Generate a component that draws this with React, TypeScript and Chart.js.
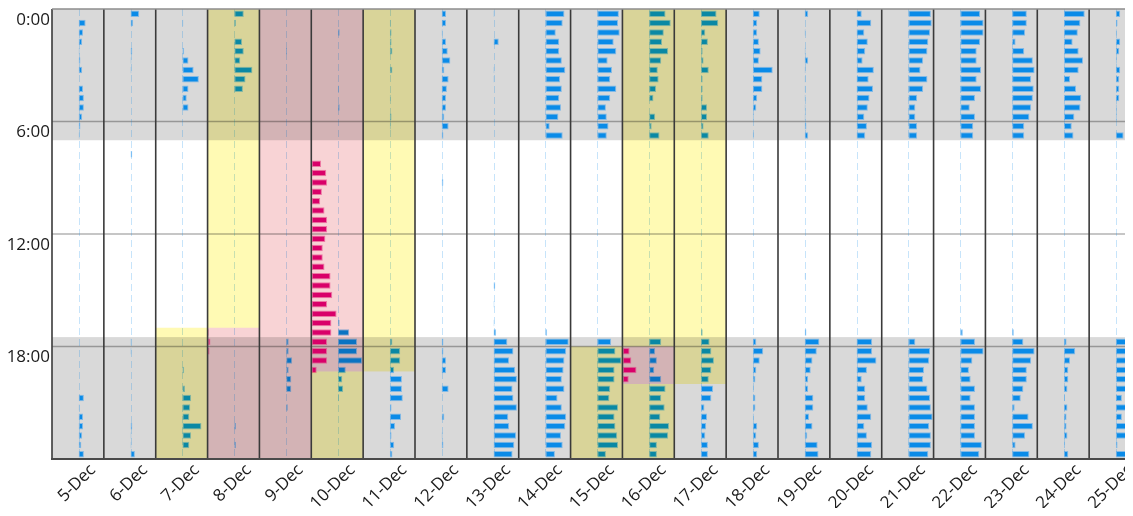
import { useEffect, useRef } from 'react';
import { Chart, registerables } from 'chart.js';

Chart.register(...registerables);

// ---------- categories / ticks ----------
const dayLabels = [
  '5-Dec', '6-Dec', '7-Dec', '8-Dec', '9-Dec', '10-Dec', '11-Dec', '12-Dec', '13-Dec', '14-Dec',
  '15-Dec', '16-Dec', '17-Dec', '18-Dec', '19-Dec', '20-Dec', '21-Dec', '22-Dec', '23-Dec', '24-Dec', '25-Dec',
];
const hourTicks = [0, 6, 12, 18];
const slotHours = 0.5; // 48 half-hour slots per day

// ---------- blue series: minutes per half-hour slot (rows 0:00 .. 23:30) ----------
const dec05 = [0,8,5,4,1,2,4,0,5,6,6,4,2,1, 0,0,0,0,0,0,0,0,0,0, 0,0,0,0,0,0,0,0,0,0, 0,0,0,0,0,0,0,6,1,5,5,4,3,6];
const dec06 = [10,3,0,0,2,1,1,0,0,0,0,0,0,0, 0,2,0,0,0,0,0,0,0,0, 0,0,0,0,0,0,0,0,0,0, 0,1,1,0,0,0,0,0,0,0,2,1,1,5];
const dec07 = [0,1,0,0,2,7,13,19,7,5,7,0,0,0, 0,0,0,0,0,0,0,0,0,0, 0,0,0,0,0,0,0,0,0,0, 0,0,0,0,2,0,3,10,9,8,22,10,8,0];
const dec08 = [11,2,0,9,11,7,21,13,10,0,0,0,0,0, 0,0,0,0,0,0,0,0,0,0, 0,0,0,0,0,0,0,0,0,0, 0,0,0,0,0,0,0,0,0,0,2,0,2,0];
const dec09 = [0,0,0,0,1,0,0,0,0,0,0,0,0,0, 0,0,0,0,0,0,0,0,0,0, 0,0,0,0,0,0,0,0,0,0, 0,3,3,7,3,6,6,0,2,0,0,0,0,0];
const dec10 = [0,0,2,0,0,0,0,0,1,0,2,0,0,0, 0,0,0,0,0,0,0,0,0,0, 0,0,0,0,0,0,0,0,0,2, 13,22,22,28,9,5,6,1,0,0,0,0,0,0];
const dec11 = [0,1,2,2,3,0,3,0,0,1,0,2,1,0, 0,0,0,0,0,0,0,0,0,0, 0,0,0,0,0,0,0,0,0,0, 0,3,12,12,5,14,14,15,2,13,6,2,5,3];
const dec12 = [5,5,1,5,7,10,3,8,6,5,5,3,8,2, 0,0,0,0,2,0,0,0,0,0, 0,0,0,0,0,0,0,0,0,0, 0,2,2,5,5,0,8,0,0,3,0,1,2,0];
const dec13 = [1,0,0,6,0,0,1,1,0,0,0,0,0,0, 0,0,0,0,0,0,0,0,0,0, 0,0,0,0,0,2,0,1,0,1, 3,16,23,18,25,27,22,23,27,17,18,26,24,22];
const dec14 = [22,20,12,16,16,19,23,17,19,16,18,15,5,20, 0,0,0,0,0,0,0,0,0,0, 0,0,0,0,0,0,0,0,0,0, 2,27,24,22,21,19,22,14,19,24,23,18,20,11];
const dec15 = [25,24,26,19,22,12,17,15,22,15,10,11,13,11, 0,0,0,0,0,0,0,0,0,0, 0,0,0,0,0,0,0,0,0,0, 0,16,21,28,20,20,15,14,24,20,21,23,24,10];
const dec16 = [19,25,17,15,22,14,10,11,8,5,0,7,3,12, 0,0,0,0,0,0,0,0,0,0, 0,0,0,0,0,0,0,0,0,0, 0,14,7,9,6,14,19,14,18,13,23,22,9,9];
const dec17 = [18,20,5,8,2,3,9,2,2,2,7,7,3,9, 0,0,0,0,0,0,0,0,0,0, 0,0,0,0,0,0,0,0,0,0, 2,10,12,15,12,9,14,12,4,7,6,5,8,8];
const dec18 = [8,5,5,7,9,7,23,11,11,5,4,1,0,1, 0,0,0,0,0,0,0,0,0,0, 0,0,0,0,0,0,0,0,0,0, 0,4,12,8,4,3,1,3,3,1,5,4,7,5];
const dec19 = [4,0,1,0,1,4,1,1,1,1,1,1,2,4, 0,0,0,0,0,0,0,0,0,0, 0,0,0,0,1,0,0,0,0,0, 2,17,14,9,7,4,4,10,10,5,9,3,15,16];
const dec20 = [6,17,9,13,10,7,20,14,19,15,13,9,12,10, 0,0,0,0,0,0,0,0,0,0, 0,0,0,0,0,0,0,0,0,0, 0,18,18,23,12,6,10,10,13,17,9,12,18,17];
const dec21 = [26,27,25,23,22,17,14,22,17,10,8,8,10,10, 0,0,0,0,0,0,0,0,0,0, 0,0,0,0,0,0,0,0,0,0, 0,8,25,24,18,17,22,25,26,28,24,26,26,23];
const dec22 = [23,27,27,23,19,19,24,19,24,17,11,17,15,15, 0,0,0,0,0,0,0,0,0,0, 0,0,0,0,0,0,0,0,0,0, 3,17,27,14,10,12,17,12,17,17,17,17,25,22];
const dec23 = [17,17,15,4,14,24,26,22,25,24,22,20,14,14, 0,0,0,0,0,0,0,0,0,0, 0,0,0,0,0,0,0,0,0,0, 2,13,26,22,17,17,13,10,3,19,24,15,4,20];
const dec24 = [24,19,16,10,17,22,17,7,14,20,19,12,9,11, 0,0,0,0,0,0,0,0,0,0, 0,0,0,0,0,0,0,0,0,0, 0,3,13,7,5,5,4,1,4,3,3,4,1,5];
const dec25 = [5,2,1,5,4,1,5,4,4,4,1,1,0,9, 0,0,0,0,0,0,0,0,0,0, 0,0,0,0,0,0,0,0,0,0, 0,12,22,21,15,15,17,7,12,7,15,13,2,13];

const blueSeries = [
  dec05, dec06, dec07, dec08, dec09, dec10, dec11, dec12, dec13, dec14, dec15,
  dec16, dec17, dec18, dec19, dec20, dec21, dec22, dec23, dec24, dec25,
];

// ---------- magenta series (only on some days) ----------
const pink08 = [0,0,0,0,0,0,0,0,0,0,0,0,0,0, 0,0,0,0,0,0,0,0,0,0, 0,0,0,0,0,0,0,0,0,0, 1,3,2,0,0,0,0,0,0,0,0,0,0,0];
const pink10 = [0,0,0,0,0,0,0,0,0,0,0,0,0,0, 0,0,11,17,18,12,10,15,18,18, 16,13,13,15,22,22,24,18,29,23, 23,18,18,18,6,0,0,0,0,0,0,0,0,0];
const pink16 = [0,0,0,0,0,0,0,0,0,0,0,0,0,0, 0,0,0,0,0,0,0,0,0,0, 0,0,0,0,0,0,0,0,0,0, 0,0,8,10,16,7,0,0,0,0,0,0,0,0];
const pinkDays = [3, 5, 11];
const pinkSeries = [pink08, pink10, pink16];

// ---------- night shading (hours) ----------
const nightStart = [0, 17.5];
const nightEnd = [7, 24];

// ---------- highlighted periods ----------
const periodKind = ['yellow', 'pink', 'yellow', 'yellow', 'pink', 'yellow'];
const periodStartDay = [2, 3, 5, 10, 11, 11];
const periodStartHour = [17, 17, 19.33, 18, 18, 20];
const periodEndDay = [3, 5, 6, 11, 11, 12];
const periodEndHour = [17, 19.33, 19.33, 18, 20, 20];

const BASE = 0.515; // blue bars start near the middle of each day column
const MIN_PER_DAY_UNIT = 60;

function buildBlue() {
  const out: { x: [number, number]; y: number }[] = [];
  blueSeries.forEach((day, d) => {
    day.forEach((v, r) => {
      if (v > 0) out.push({ x: [d + BASE, d + BASE + v / MIN_PER_DAY_UNIT], y: r * slotHours + slotHours / 2 });
    });
  });
  return out;
}

function buildPink() {
  const out: { x: [number, number]; y: number }[] = [];
  pinkSeries.forEach((day, k) => {
    const d = pinkDays[k];
    day.forEach((v, r) => {
      if (v > 0) out.push({ x: [d + 0.005, d + 0.005 + v / MIN_PER_DAY_UNIT], y: r * slotHours + slotHours / 2 });
    });
  });
  return out;
}

const overlayColor: Record<string, string> = { yellow: '#fffab4', pink: '#f8d3d5' };

const backdrop = {
  id: 'backdrop',
  beforeDraw(chart: any) {
    const { ctx, chartArea: a, scales } = chart;
    const y = scales.y;
    ctx.save();
    ctx.fillStyle = '#ffffff';
    ctx.fillRect(0, 0, chart.width, chart.height);
    ctx.fillStyle = '#d9d9d9';
    nightStart.forEach((s, i) => {
      const y0 = y.getPixelForValue(s);
      const y1 = y.getPixelForValue(nightEnd[i]);
      ctx.fillRect(a.left, y0, a.right - a.left, y1 - y0);
    });
    ctx.restore();
  },
  beforeDatasetsDraw(chart: any) {
    const { ctx, chartArea: a, scales } = chart;
    const { x, y } = scales;
    ctx.save();
    ctx.lineWidth = 1.3;
    ctx.strokeStyle = 'rgba(0,0,0,0.3)';
    [6, 12, 18].forEach((h) => {
      const py = y.getPixelForValue(h);
      ctx.beginPath();
      ctx.moveTo(a.left, py);
      ctx.lineTo(a.right, py);
      ctx.stroke();
    });
    ctx.setLineDash([7, 4]);
    ctx.lineWidth = 1;
    ctx.strokeStyle = 'rgba(0,130,230,0.22)';
    dayLabels.forEach((_, d) => {
      const px = Math.round(x.getPixelForValue(d + BASE)) + 0.5;
      ctx.beginPath();
      ctx.moveTo(px, a.top);
      ctx.lineTo(px, a.bottom);
      ctx.stroke();
    });
    ctx.restore();
  },
  afterDatasetsDraw(chart: any) {
    const { ctx, chartArea: a, scales } = chart;
    const { x, y } = scales;
    ctx.save();
    ctx.globalCompositeOperation = 'multiply';
    periodKind.forEach((kind, i) => {
      ctx.fillStyle = overlayColor[kind];
      for (let d = periodStartDay[i]; d <= periodEndDay[i]; d++) {
        const h0 = d === periodStartDay[i] ? periodStartHour[i] : 0;
        const h1 = d === periodEndDay[i] ? periodEndHour[i] : 24;
        if (h1 <= h0) continue;
        const x0 = x.getPixelForValue(d);
        const x1 = x.getPixelForValue(d + 1);
        const y0 = y.getPixelForValue(h0);
        const y1 = y.getPixelForValue(h1);
        ctx.fillRect(x0, y0, x1 - x0, y1 - y0);
      }
    });
    ctx.globalCompositeOperation = 'source-over';
    // day separators
    ctx.strokeStyle = '#3a3a3a';
    ctx.lineWidth = 1.6;
    for (let d = 0; d <= dayLabels.length; d++) {
      const px = x.getPixelForValue(d);
      ctx.beginPath();
      ctx.moveTo(px, a.top);
      ctx.lineTo(px, a.bottom);
      ctx.stroke();
    }
    // top border
    ctx.strokeStyle = '#8c8c8c';
    ctx.lineWidth = 1.5;
    ctx.beginPath();
    ctx.moveTo(a.left, a.top);
    ctx.lineTo(a.right, a.top);
    ctx.stroke();
    // bottom axis
    ctx.strokeStyle = '#4a4a4a';
    ctx.lineWidth = 2;
    ctx.beginPath();
    ctx.moveTo(a.left - 1, a.bottom);
    ctx.lineTo(a.right, a.bottom);
    ctx.stroke();
    ctx.restore();
  },
};

export default function App() {
  const ref = useRef<HTMLCanvasElement>(null);

  useEffect(() => {
    if (!ref.current) return;
    const font = { family: "'Open Sans', sans-serif", size: 17 };
    const chart = new Chart(ref.current, {
      type: 'bar',
      data: {
        datasets: [
          {
            label: 'blue',
            data: buildBlue() as any,
            backgroundColor: '#0a8be8',
            borderColor: 'rgba(60,160,240,0.55)',
            borderWidth: 1,
            borderSkipped: false,
            grouped: false,
            barPercentage: 0.7,
            categoryPercentage: 1,
          } as any,
          {
            label: 'magenta',
            data: buildPink() as any,
            backgroundColor: '#e0007e',
            borderColor: 'rgba(235,60,150,0.55)',
            borderWidth: 1,
            borderSkipped: false,
            grouped: false,
            barPercentage: 0.7,
            categoryPercentage: 1,
          } as any,
        ],
      },
      options: {
        indexAxis: 'y',
        animation: false,
        responsive: false,
        layout: { padding: { top: 1, right: 1, left: 0, bottom: 0 } },
        plugins: { legend: { display: false }, tooltip: { enabled: false } },
        scales: {
          x: {
            type: 'linear',
            position: 'bottom',
            min: 0,
            max: dayLabels.length,
            offset: false,
            grid: { display: false, offset: false, drawTicks: false },
            border: { display: false },
            afterBuildTicks: (s: any) => {
              s.ticks = dayLabels.map((_, i) => ({ value: i + 0.5 }));
            },
            afterFit: (s: any) => {
              s.height = 57;
              s.paddingLeft = 0;
              s.paddingRight = 0;
            },
            ticks: {
              autoSkip: false,
              minRotation: 45,
              maxRotation: 45,
              labelOffset: 15,
              padding: 1,
              color: '#1a1a1a',
              font,
              callback: (_v: any, i: number) => dayLabels[i],
            },
          },
          y: {
            type: 'linear',
            reverse: true,
            min: 0,
            max: 24,
            offset: false,
            grid: { display: false, offset: false, drawTicks: false },
            border: { display: false },
            afterBuildTicks: (s: any) => {
              s.ticks = hourTicks.map((v) => ({ value: v }));
            },
            afterFit: (s: any) => {
              s.width = 44;
              s.paddingTop = 0;
              s.paddingBottom = 0;
            },
            ticks: {
              labelOffset: 11,
              padding: 2,
              color: '#1a1a1a',
              font,
              callback: (v: any) => `${v}:00`,
            },
          },
        },
      } as any,
      plugins: [backdrop],
    });
    return () => chart.destroy();
  }, []);

  return (
    <div style={{ width: 1125, height: 508, overflow: 'hidden', marginBottom: -8 }}>
      <canvas ref={ref} width={1134} height={508} style={{ display: 'block', width: 1134, height: 508 }} />
    </div>
  );
}
